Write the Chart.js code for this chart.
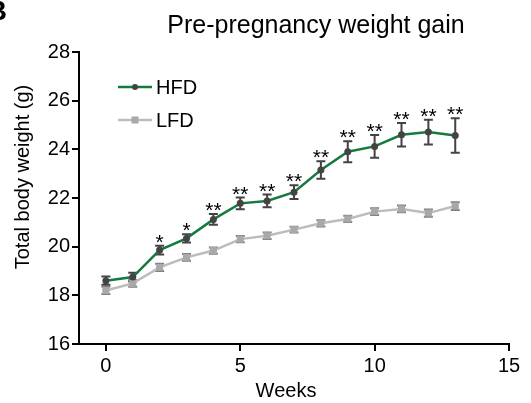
<!DOCTYPE html>
<html>
<head>
<meta charset="utf-8">
<script src="https://cdn.jsdelivr.net/npm/chart.js@4"></script>
<style>
  html, body { margin: 0; padding: 0; background: #fff; }
  #wrap { width: 531px; height: 403px; }
</style>
</head>
<body>
<div id="wrap"><canvas id="weightChart" width="531" height="403"></canvas></div>
<script>
// values
const weeks   = [0, 1, 2, 3, 4, 5, 6, 7, 8, 9, 10, 11, 12, 13];
const hfdMean = [18.6, 18.75, 19.86, 20.34, 21.12, 21.78, 21.88, 22.24, 23.15, 23.9, 24.12, 24.6, 24.71, 24.57];
const hfdSem  = [0.17, 0.18, 0.18, 0.17, 0.22, 0.24, 0.26, 0.28, 0.36, 0.43, 0.47, 0.48, 0.51, 0.71];
const lfdMean = [18.2, 18.49, 19.15, 19.56, 19.84, 20.31, 20.45, 20.7, 20.96, 21.14, 21.44, 21.55, 21.38, 21.67];
const lfdSem  = [0.15, 0.14, 0.15, 0.14, 0.13, 0.13, 0.13, 0.12, 0.13, 0.13, 0.14, 0.14, 0.15, 0.16];
const stars   = ['', '', '*', '*', '**', '**', '**', '**', '**', '**', '**', '**', '**', '**'];
const xTicks  = [0, 5, 10, 15];

const FONT = "'Liberation Sans', Arial, Helvetica, sans-serif";
const HFD_LINE = '#157a3f';
const HFD_MARK = '#434343';
const LFD_LINE = '#bcbcbc';
const LFD_MARK = '#a9a9a9';
const LFD_ERR = '#7f7f7f';

const toPts = arr => weeks.map((w, i) => ({ x: w, y: arr[i] }));

// error bars, drawn under the lines
const errorBars = {
  id: 'errorBars',
  beforeDatasetsDraw(chart) {
    const { ctx, scales: { x, y } } = chart;
    const sets = [
      { mean: lfdMean, sem: lfdSem, color: LFD_ERR },
      { mean: hfdMean, sem: hfdSem, color: HFD_MARK }
    ];
    ctx.save();
    ctx.lineWidth = 2;
    sets.forEach(s => {
      ctx.strokeStyle = s.color;
      weeks.forEach((w, i) => {
        const px = x.getPixelForValue(w);
        const top = y.getPixelForValue(s.mean[i] + s.sem[i]);
        const bot = y.getPixelForValue(s.mean[i] - s.sem[i]);
        ctx.beginPath();
        ctx.moveTo(px, top); ctx.lineTo(px, bot);
        ctx.moveTo(px - 4.5, top); ctx.lineTo(px + 4.5, top);
        ctx.moveTo(px - 4.5, bot); ctx.lineTo(px + 4.5, bot);
        ctx.stroke();
      });
    });
    ctx.restore();
  }
};

// title, axis titles, legend, asterisks
const annotations = {
  id: 'annotations',
  afterDraw(chart) {
    const { ctx, scales: { x, y } } = chart;
    ctx.save();
    ctx.fillStyle = '#000';
    ctx.textBaseline = 'alphabetic';

    // panel letter (cut off at the edge)
    ctx.font = 'bold 28px ' + FONT;
    ctx.textAlign = 'right';
    ctx.fillText('B', 7, 20);

    ctx.font = '25px ' + FONT;
    ctx.textAlign = 'center';
    ctx.fillText('Pre-pregnancy weight gain', 316, 33);

    ctx.font = '20px ' + FONT;
    ctx.fillText('Weeks', 286, 397);

    ctx.save();
    ctx.translate(29, 177);
    ctx.rotate(-Math.PI / 2);
    ctx.fillText('Total body weight (g)', 0, 0);
    ctx.restore();

    // significance marks
    ctx.font = '21px ' + FONT;
    weeks.forEach((w, i) => {
      if (!stars[i]) return;
      const px = x.getPixelForValue(w);
      const top = y.getPixelForValue(hfdMean[i] + hfdSem[i]);
      ctx.fillText(stars[i], px, top + 3);
    });

    // legend
    const items = [
      { label: 'HFD', line: HFD_LINE, mark: HFD_MARK, style: 'circle', yy: 87 },
      { label: 'LFD', line: LFD_LINE, mark: LFD_MARK, style: 'rect', yy: 120 }
    ];
    ctx.font = '20px ' + FONT;
    ctx.textAlign = 'left';
    ctx.textBaseline = 'middle';
    items.forEach(it => {
      ctx.strokeStyle = it.line;
      ctx.lineWidth = 2.5;
      ctx.beginPath();
      ctx.moveTo(118, it.yy); ctx.lineTo(152, it.yy);
      ctx.stroke();
      ctx.fillStyle = it.mark;
      if (it.style === 'circle') {
        ctx.beginPath(); ctx.arc(135, it.yy, 3, 0, Math.PI * 2); ctx.fill();
      } else {
        ctx.fillRect(131.5, it.yy - 3.5, 7, 7);
      }
      ctx.fillStyle = '#000';
      ctx.fillText(it.label, 156, it.yy + 1);
    });
    ctx.restore();
  }
};

new Chart(document.getElementById('weightChart'), {
  type: 'scatter',
  data: {
    datasets: [
      {
        label: 'HFD',
        data: toPts(hfdMean),
        showLine: true,
        borderColor: HFD_LINE,
        borderWidth: 2.5,
        pointStyle: 'circle',
        pointRadius: 3.5,
        pointBackgroundColor: HFD_MARK,
        pointBorderColor: HFD_MARK,
        pointBorderWidth: 0
      },
      {
        label: 'LFD',
        data: toPts(lfdMean),
        showLine: true,
        borderColor: LFD_LINE,
        borderWidth: 2.5,
        pointStyle: 'rect',
        pointRadius: 5,
        pointBackgroundColor: LFD_MARK,
        pointBorderColor: LFD_MARK,
        pointBorderWidth: 0
      }
    ]
  },
  options: {
    responsive: false,
    animation: false,
    devicePixelRatio: 1,
    layout: { padding: { top: 52, right: 22, left: 0, bottom: 0 } },
    plugins: {
      legend: { display: false },
      tooltip: { enabled: false }
    },
    scales: {
      x: {
        type: 'linear',
        min: -1,
        max: 15,
        afterBuildTicks: s => { s.ticks = xTicks.map(v => ({ value: v })); },
        afterFit: s => { s.height = 59; },
        ticks: { color: '#000', font: { family: FONT, size: 20 }, padding: 3, maxRotation: 0 },
        grid: { drawOnChartArea: false, drawTicks: true, tickLength: 7, color: '#000', lineWidth: 2 },
        border: { color: '#000', width: 2 }
      },
      y: {
        min: 16,
        max: 28,
        afterFit: s => { s.width = 79; },
        ticks: { stepSize: 2, color: '#000', font: { family: FONT, size: 20 }, padding: 2 },
        grid: { drawOnChartArea: false, drawTicks: true, tickLength: 7, color: '#000', lineWidth: 2 },
        border: { color: '#000', width: 2 }
      }
    }
  },
  plugins: [errorBars, annotations]
});
</script>
</body>
</html>
